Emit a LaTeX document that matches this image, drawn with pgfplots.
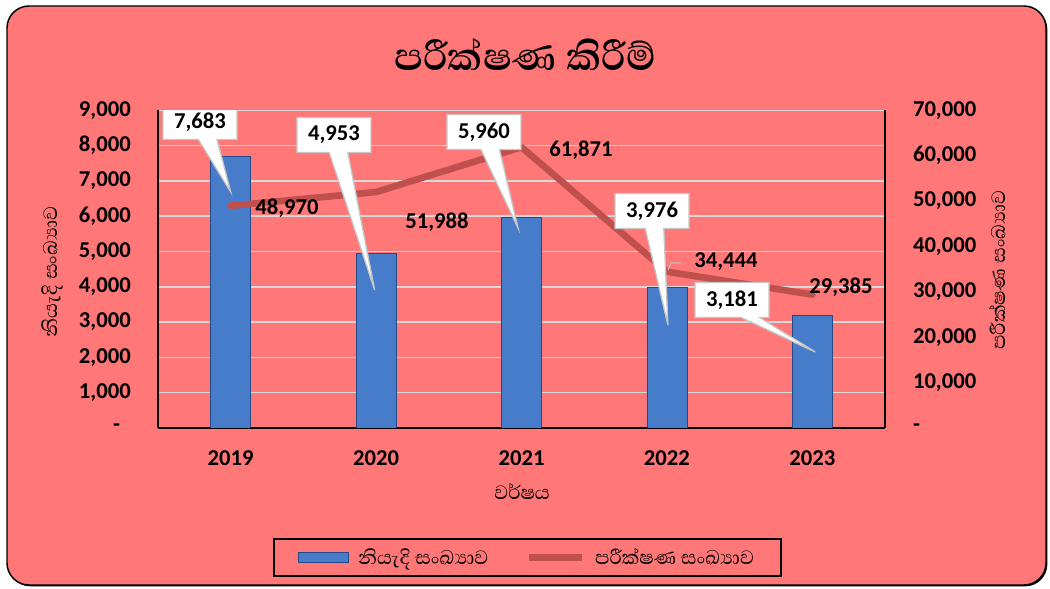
\documentclass[border=0pt]{standalone}
\usepackage{fontspec}
\setmainfont{Carlito}
\newfontfamily\sinfont[Script=Sinhala]{Abhaya Libre}
\usepackage{pgfplots}
\pgfplotsset{compat=1.18}
\usetikzlibrary{shapes.callouts}
\definecolor{bgpink}{RGB}{255,119,119}
\definecolor{gridc}{RGB}{217,217,217}
\definecolor{linered}{RGB}{192,80,77}
\definecolor{barblue}{RGB}{70,124,202}
\definecolor{barblueedge}{RGB}{38,72,132}
\newcommand\numfont{\bfseries\fontsize{17}{20}\selectfont}
\newcommand\sinlab{\sinfont\fontsize{18.5}{21}\selectfont}
\tikzset{co/.style={rectangle callout, fill=white, draw=gray!45, line width=1pt,
  minimum width=55.5pt, minimum height=26.25pt, inner sep=0pt, font=\numfont,
  callout pointer width=14pt}}
\begin{document}
\begin{tikzpicture}
\useasboundingbox (0,0) rectangle (787.5pt,441.75pt);
\fill[white] (0,0) rectangle (787.5pt,441.75pt);
\fill[black, rounded corners=16.5pt] (6.25pt,2pt) rectangle (785.5pt,436.25pt);
\filldraw[fill=bgpink, draw=black, line width=1.1pt, rounded corners=16.5pt] (5.25pt,3pt) rectangle (784.5pt,437.25pt);
\begin{axis}[
  at={(118.5pt,120.75pt)}, anchor=south west,
  scale only axis, width=545.25pt, height=238.3pt,
  xmin=-0.5, xmax=4.5, ymin=0, ymax=9000,
  axis x line*=bottom, axis y line*=left,
  axis line style={-, black, line width=1.1pt},
  xtick={0,1,2,3,4}, xticklabels={2019,2020,2021,2022,2023},
  ytick={0,1000,2000,3000,4000,5000,6000,7000,8000,9000},
  yticklabels={{-\hspace*{8pt}},{1,000},{2,000},{3,000},{4,000},{5,000},{6,000},{7,000},{8,000},{9,000}},
  scaled y ticks=false,
  major tick length=0,
  ymajorgrids, grid style={gridc, line width=1.1pt},
  tick label style={font=\numfont},
  yticklabel style={anchor=east, inner sep=0pt, xshift=-20.25pt},
  xticklabel style={anchor=north, inner sep=0pt, yshift=-17pt},
  every axis y label/.style={at={(axis description cs:-0.1458,0.491)}, rotate=90, anchor=center},
  ylabel={\sinlab නියැදි සංඛ්‍යාව},
  every axis x label/.style={at={(axis description cs:0.5007,-0.1983)}, anchor=center},
  xlabel={\sinlab වර්ෂය},
  every axis title/.style={at={(axis description cs:0.505,1.174)}, anchor=center},
  title={\sinfont\bfseries\fontsize{37}{40}\selectfont පරීක්ෂණ කිරීම්},
  legend style={at={(axis description cs:0.508,-0.4076)}, anchor=center,
    draw=black, line width=1.5pt, fill=bgpink, inner xsep=18pt, inner ysep=5pt,
    font=\sinlab},
  legend columns=2, legend cell align=left,
  /tikz/every odd column/.append style={column sep=5pt},
  /tikz/every even column/.append style={column sep=26pt},
]
\addplot[ybar, bar width=30pt, draw=barblueedge, line width=0.6pt, fill=barblue,
  legend image code/.code={\draw[draw=barblueedge, line width=0.6pt, fill=barblue] (0pt,-4pt) rectangle (37.5pt,4pt);}]
  coordinates {(0,7683) (1,4953) (2,5960) (3,3976) (4,3181)};
\addlegendentry{නියැදි සංඛ්‍යාව}
\addlegendimage{linered, legend image code/.code={\draw[linered, line width=5pt] (0pt,0pt) -- (40pt,0pt);}}
\addlegendentry{පරීක්ෂණ සංඛ්‍යාව}
\end{axis}
\begin{axis}[
  at={(118.5pt,120.75pt)}, anchor=south west,
  scale only axis, width=545.25pt, height=238.3pt,
  xmin=-0.5, xmax=4.5, ymin=0, ymax=70000,
  axis x line=none, axis y line*=right,
  axis line style={-, black, line width=1.1pt},
  ytick={0,10000,20000,30000,40000,50000,60000,70000},
  yticklabels={-,{10,000},{20,000},{30,000},{40,000},{50,000},{60,000},{70,000}},
  scaled y ticks=false,
  major tick length=0,
  tick label style={font=\numfont},
  yticklabel style={anchor=west, inner sep=0pt, xshift=20.8pt},
  every axis y label/.style={at={(axis description cs:1.1554,0.497)}, rotate=90, anchor=center},
  ylabel={\sinlab පරීක්ෂණ සංඛ්‍යාව},
]
\addplot[linered, line width=5pt, line join=round, line cap=round]
  coordinates {(0,48970) (1,51988) (2,61871) (3,34444) (4,29385)};
\node[font=\numfont] at (axis cs:0.387,48469) {48,970};
\node[font=\numfont] at (axis cs:1.419,45385) {51,988};
\node[font=\numfont] at (axis cs:2.409,61247) {61,871};
\node[font=\numfont] at (axis cs:3.406,36572) {34,444};
\node[font=\numfont] at (axis cs:4.197,31064) {29,385};
\draw[gray!50, line width=0.8pt] (axis cs:3.0076,34809) -- (axis cs:3.028,36351) -- (axis cs:3.097,36351);
\node[co, callout absolute pointer={(axis cs:0,51994)}] at (axis cs:-0.211,67416) {7,683};
\node[co, callout absolute pointer={(axis cs:0.99,30403)}] at (axis cs:0.710,64556) {4,953};
\node[co, callout absolute pointer={(axis cs:1.976,44069)}] at (axis cs:1.742,65217) {5,960};
\node[co, callout absolute pointer={(axis cs:3.007,22696)}] at (axis cs:2.898,47810) {3,976};
\node[co, callout absolute pointer={(axis cs:4.02,16746)}] at (axis cs:3.448,28202) {3,181};
\end{axis}
\end{tikzpicture}
\end{document}
